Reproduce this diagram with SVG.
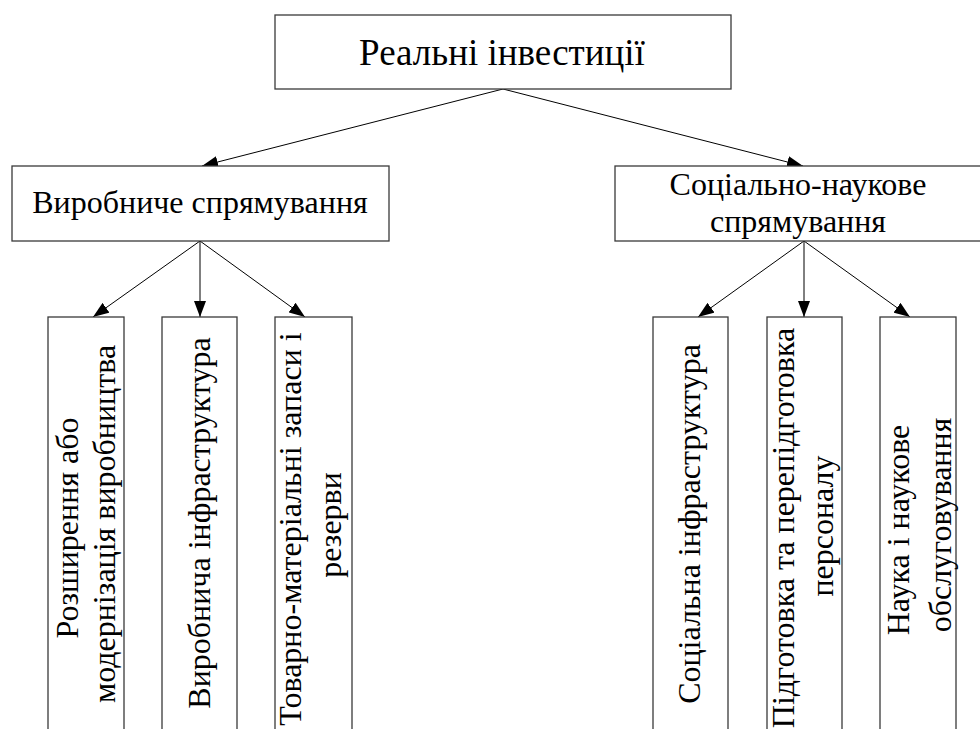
<svg xmlns="http://www.w3.org/2000/svg" width="980" height="729" viewBox="0 0 980 729">
  <style>
    .box { fill: #ffffff; stroke: #3a3a3a; stroke-width: 1.3; }
    .lbl { fill: #000000; text-anchor: middle; }
    .link { stroke: #000000; stroke-width: 1; fill: none; marker-end: url(#arrow); }
  </style>
  <defs>
    <marker id="arrow" markerUnits="userSpaceOnUse" markerWidth="16" markerHeight="12" viewBox="0 0 16 12" refX="16" refY="6" orient="auto">
      <path d="M0,0 L16,6 L0,12 Z" fill="#000000"/>
    </marker>
  </defs>

  <!-- connectors -->
  <g id="connectors">
    <line class="link" x1="503" y1="89" x2="202" y2="166"/>
    <line class="link" x1="503" y1="89" x2="803" y2="166"/>
    <line class="link" x1="200" y1="241" x2="93" y2="317"/>
    <line class="link" x1="200" y1="241" x2="200" y2="317"/>
    <line class="link" x1="200" y1="241" x2="305" y2="317"/>
    <line class="link" x1="804" y1="241" x2="698" y2="317"/>
    <line class="link" x1="804" y1="241" x2="804" y2="317"/>
    <line class="link" x1="804" y1="241" x2="910" y2="317"/>
  </g>

  <g font-family="'Liberation Serif', 'Times New Roman', serif">
    <!-- root -->
    <g id="root">
      <rect class="box" x="275" y="15" width="456" height="74"/>
      <text class="lbl" font-size="37" x="502" y="65">Реальні інвестиції</text>
    </g>

    <!-- second level -->
    <g id="production" font-size="32">
      <rect class="box" x="12" y="166" width="377" height="75"/>
      <text class="lbl" x="200" y="213">Виробниче спрямування</text>
    </g>
    <g id="social" font-size="32">
      <rect class="box" x="615" y="166" width="368" height="75"/>
      <text class="lbl" x="798" y="195">Соціально-наукове</text>
      <text class="lbl" x="798" y="232">спрямування</text>
    </g>

    <!-- third level, production branch -->
    <g id="expansion" font-size="32">
      <rect class="box" x="48" y="317" width="76" height="430"/>
      <text class="lbl" transform="translate(78,528) rotate(-90)">Розширення або</text>
      <text class="lbl" transform="translate(115,524) rotate(-90)">модернізація виробництва</text>
    </g>
    <g id="prod-infra" font-size="32">
      <rect class="box" x="162" y="317" width="75" height="430"/>
      <text class="lbl" transform="translate(210,523) rotate(-90)">Виробнича інфраструктура</text>
    </g>
    <g id="stocks" font-size="32">
      <rect class="box" x="275" y="317" width="77" height="430"/>
      <text class="lbl" transform="translate(301,529) rotate(-90)">Товарно-матеріальні запаси і</text>
      <text class="lbl" transform="translate(341,525) rotate(-90)">резерви</text>
    </g>

    <!-- third level, social branch -->
    <g id="soc-infra" font-size="32">
      <rect class="box" x="653" y="317" width="75" height="430"/>
      <text class="lbl" transform="translate(700,524) rotate(-90)">Соціальна інфраструктура</text>
    </g>
    <g id="training" font-size="32">
      <rect class="box" x="767" y="317" width="75" height="430"/>
      <text class="lbl" transform="translate(794,528) rotate(-90)">Підготовка та перепідготовка</text>
      <text class="lbl" transform="translate(833,526) rotate(-90)">персоналу</text>
    </g>
    <g id="science" font-size="32">
      <rect class="box" x="880" y="317" width="76" height="430"/>
      <text class="lbl" transform="translate(909,530) rotate(-90)">Наука і наукове</text>
      <text class="lbl" transform="translate(951,525) rotate(-90)">обслуговування</text>
    </g>
  </g>
</svg>
